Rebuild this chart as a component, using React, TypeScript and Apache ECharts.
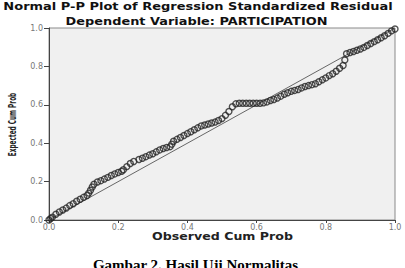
import React, { useEffect, useRef } from "react";
import * as echarts from "echarts";

const titleLine1 = "Normal P-P Plot of Regression Standardized Residual";
const titleLine2 = "Dependent Variable: PARTICIPATION";
const xAxisTitle = "Observed Cum Prob";
const yAxisTitle = "Expected Cum Prob";
const caption = "Gambar 2. Hasil Uji Normalitas";

const axisTicks = [0, 0.2, 0.4, 0.6, 0.8, 1.0];

const observedCumProb = [
  0.0, 0.005, 0.01, 0.02, 0.03, 0.04, 0.05, 0.06, 0.07, 0.08, 0.09, 0.1, 0.11, 0.115, 0.12, 0.125,
  0.13, 0.14, 0.15, 0.16, 0.17, 0.18, 0.19, 0.2, 0.21, 0.215, 0.225, 0.235, 0.245, 0.26, 0.27, 0.28,
  0.29, 0.3, 0.31, 0.32, 0.33, 0.34, 0.35, 0.355, 0.36, 0.37, 0.38, 0.39, 0.4, 0.41, 0.42, 0.43,
  0.44, 0.45, 0.46, 0.47, 0.48, 0.49, 0.5, 0.51, 0.52, 0.53, 0.54, 0.55, 0.56, 0.57, 0.58, 0.59,
  0.6, 0.61, 0.62, 0.63, 0.64, 0.65, 0.66, 0.67, 0.68, 0.69, 0.7, 0.71, 0.72, 0.73, 0.74, 0.75,
  0.76, 0.77, 0.78, 0.79, 0.8, 0.81, 0.82, 0.83, 0.84, 0.85, 0.855, 0.86, 0.87, 0.88, 0.89, 0.9,
  0.91, 0.92, 0.93, 0.94, 0.95, 0.96, 0.97, 0.98, 0.99, 1.0,
];

const expectedCumProb = [
  0.0, 0.008, 0.015, 0.03, 0.042, 0.052, 0.062, 0.075, 0.085, 0.098, 0.108, 0.118, 0.128, 0.14, 0.155, 0.172,
  0.186, 0.198, 0.205, 0.213, 0.222, 0.232, 0.24, 0.247, 0.254, 0.262, 0.278, 0.294, 0.305, 0.315, 0.322, 0.33,
  0.338, 0.345, 0.355, 0.365, 0.372, 0.378, 0.382, 0.395, 0.41, 0.42, 0.43, 0.44, 0.45, 0.46, 0.47, 0.48,
  0.49, 0.495, 0.5, 0.505, 0.51, 0.518, 0.528, 0.545, 0.565, 0.59, 0.605, 0.608, 0.608, 0.608, 0.608, 0.608,
  0.608, 0.608, 0.61, 0.615, 0.622, 0.628, 0.635, 0.645, 0.655, 0.663, 0.67, 0.675, 0.68, 0.688, 0.695, 0.7,
  0.705, 0.71, 0.72, 0.73, 0.74, 0.752, 0.762, 0.775, 0.79, 0.805, 0.833, 0.866, 0.872, 0.878, 0.884, 0.891,
  0.899, 0.909, 0.919, 0.929, 0.939, 0.949, 0.96, 0.972, 0.985, 0.995,
];

const referenceLine = [
  [0, 0],
  [1, 1],
];

export default function App() {
  const ref = useRef<HTMLDivElement>(null);

  useEffect(() => {
    if (!ref.current) return;
    const chart = echarts.init(ref.current, undefined, { renderer: "svg" });
    const points = observedCumProb.map((x, i) => [x, expectedCumProb[i]]);

    const axisCommon = {
      type: "value" as const,
      min: 0,
      max: 1,
      interval: 0.2,
      splitLine: { show: false },
      axisLine: { show: true, lineStyle: { color: "#444", width: 1 } },
    };

    chart.setOption({
      animation: false,
      backgroundColor: "#ffffff",
      grid: {
        left: 49,
        top: 28,
        width: 346,
        height: 192,
        show: true,
        backgroundColor: "#f0f0f0",
        borderColor: "#8a8a8a",
        borderWidth: 1,
      },
      xAxis: {
        ...axisCommon,
        axisTick: { show: true, length: 3, lineStyle: { color: "#444" } },
        axisLabel: {
          fontSize: 8,
          fontFamily: "DejaVu Sans",
          color: "#777",
          margin: 3,
          formatter: (v: number) => (axisTicks.includes(v) ? v.toFixed(1) : ""),
        },
      },
      yAxis: {
        ...axisCommon,
        axisTick: { show: true, length: 5, lineStyle: { color: "#444" } },
        axisLabel: {
          fontSize: 8,
          fontFamily: "DejaVu Sans",
          color: "#777",
          margin: 6,
          formatter: (v: number) => (axisTicks.includes(v) ? v.toFixed(1) : ""),
        },
      },
      series: [
        {
          type: "line",
          data: referenceLine,
          showSymbol: false,
          symbol: "none",
          lineStyle: { color: "#666", width: 1 },
          z: 1,
          silent: true,
        },
        {
          type: "scatter",
          data: points,
          symbol: "circle",
          symbolSize: 6,
          itemStyle: {
            color: "rgba(0,0,0,0)",
            borderColor: "#262626",
            borderWidth: 1.4,
          },
          z: 2,
        },
      ],
      graphic: [
        {
          type: "text",
          x: 198,
          y: 7,
          scaleX: 1.3,
          style: {
            text: titleLine1,
            font: 'bold 10px "DejaVu Sans"',
            fill: "#111",
            textAlign: "center",
            textVerticalAlign: "middle",
            align: "center",
            verticalAlign: "middle",
          },
        },
        {
          type: "text",
          x: 196.5,
          y: 21.5,
          scaleX: 1.29,
          style: {
            text: titleLine2,
            font: 'bold 10px "DejaVu Sans"',
            fill: "#111",
            textAlign: "center",
            textVerticalAlign: "middle",
            align: "center",
            verticalAlign: "middle",
          },
        },
        {
          type: "text",
          x: 222.5,
          y: 236.5,
          scaleX: 1.26,
          style: {
            text: xAxisTitle,
            font: 'bold 10px "DejaVu Sans"',
            fill: "#222",
            textAlign: "center",
            textVerticalAlign: "middle",
            align: "center",
            verticalAlign: "middle",
          },
        },
        {
          type: "text",
          x: 12.5,
          y: 124.5,
          rotation: Math.PI / 2,
          scaleX: 0.55,
          style: {
            text: yAxisTitle,
            font: 'bold 10.5px "DejaVu Sans"',
            fill: "#222",
            textAlign: "center",
            textVerticalAlign: "middle",
            align: "center",
            verticalAlign: "middle",
          },
        },
        {
          type: "text",
          x: 195.5,
          y: 257,
          style: {
            text: caption,
            font: 'bold 15px "Liberation Serif"',
            fill: "#000",
            textAlign: "center",
            textVerticalAlign: "top",
            align: "center",
            verticalAlign: "top",
          },
        },
      ],
    });

    return () => chart.dispose();
  }, []);

  return (
    <div
      ref={ref}
      style={{ position: "absolute", left: 0, top: 0, width: 405, height: 268, background: "#fff" }}
    />
  );
}
